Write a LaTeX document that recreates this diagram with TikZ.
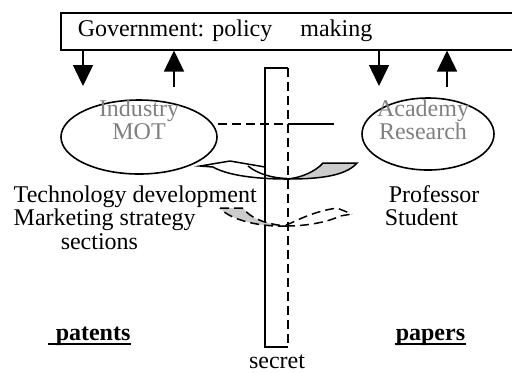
\documentclass[tikz,border=0pt]{standalone}
\usepackage{fontspec}
\setmainfont{Liberation Serif}
\usepackage{tikz}
\usetikzlibrary{arrows.meta}
\usetikzlibrary{shapes.geometric}
\frenchspacing

\begin{document}
\begin{tikzpicture}[
        x=0.5pt, y=-0.5pt,
        line width=0.75pt,
        font=\fontsize{12}{13.5}\selectfont,
        bubble/.style={ellipse, draw, line width=0.8pt, inner sep=0pt},
        faded/.style={text=gray, align=center, inner sep=0pt, font=\fontsize{12}{11.5}\selectfont},
        words/.style={anchor=base west, inner sep=0pt},
        govarrow/.style={-{Triangle[width=10pt,length=10.5pt]}},
        wall/.style={dash pattern=on 4.5pt off 2.5pt},
        twist/.style={fill=gray!40},
    ]
    \useasboundingbox (0,0) rectangle (512,372);
    \node[draw, anchor=north west, minimum height=18.5pt, text width=209.75pt, inner xsep=8.5pt, align=left] (gov) at (60,12) {Government: policy\hspace{14pt}making};
    \node[bubble, minimum width=78pt, minimum height=37pt] (ind) at (139,137) {};
    \node[bubble, minimum width=66pt, minimum height=36pt] (aca) at (428,134) {};
    \node[faded] (indtxt) at (139,120) {Industry\\MOT};
    \node[faded] (acatxt) at (423,120) {Academy\\Research};
    % policy arrows
    \coordinate (d1) at (83,86);
    \coordinate (u1) at (174,87);
    \coordinate (d2) at (379,86);
    \coordinate (u2) at (447,87);
    \draw[govarrow] (gov.south -| d1) -- (d1);
    \draw[govarrow] (u1) -- (gov.south -| u1);
    \draw[govarrow] (gov.south -| d2) -- (d2);
    \draw[govarrow] (u2) -- (gov.south -| u2);
    % the wall
    \draw (288,347) -- (265,347) -- (265,68) -- (288,68);
    \draw[wall] (288,68) -- (288,347);
    \node[anchor=base, inner sep=0pt] (sec) at (277,368) {secret};
    \coordinate (gap) at (288,124);
    \coordinate (stub) at (334,124);
    \draw[wall] (ind.east |- gap) -- (gap);
    \draw (gap) -- (stub);
    % upper twisted arrow
    \draw[twist] (323,163) -- (357,163) .. controls (345,177) and (315,179) .. (287,179)
        .. controls (300,178) and (315,172) .. (323,163) -- cycle;
    \draw (287,179) .. controls (250,179) and (225,174) .. (213,167);
    \draw (248,166) .. controls (258,174) and (272,178) .. (287,178.5);
    \draw (213,167) -- (200,166) -- (230,161) -- (265,167);
    % lower twisted arrow
    \draw[twist, wall] (220,208) -- (243,208) .. controls (250,218) and (265,224) .. (286,226)
        .. controls (260,227) and (230,220) .. (220,208) -- cycle;
    \draw[wall] (286,226) .. controls (310,226) and (330,221) .. (340,216) -- (352,214);
    \draw[wall] (286,225) .. controls (295,222) and (310,212) .. (337,208) -- (352,214);
    % texts
    \node[words] (tech) at (13,202) {Technology development};
    \node[words] (mark) at (13,225) {Marketing strategy};
    \node[words] (sect) at (60,249) {sections};
    \node[words] (prof) at (388,202) {Professor};
    \node[words] (stud) at (384,225) {Student};
    \node[words] (pat) at (55,340) {\textbf{patents}};
    \node[words] (pap) at (395,340) {\textbf{papers}};
    \draw[line width=1pt] ([xshift=-3.5pt,yshift=-2.2pt]pat.base west) -- ([yshift=-2.2pt]pat.base east);
    \draw[line width=1pt] ([yshift=-2.2pt]pap.base west) -- ([yshift=-2.2pt]pap.base east);
\end{tikzpicture}
\end{document}
